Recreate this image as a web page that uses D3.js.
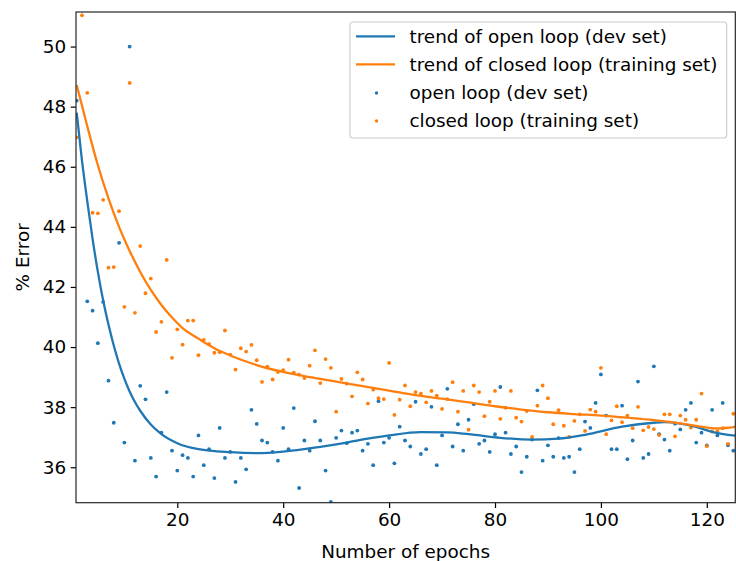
<!DOCTYPE html>
<html>
<head>
<meta charset="utf-8">
<script src="https://cdn.jsdelivr.net/npm/d3@7"></script>
<style>
  html, body { margin: 0; padding: 0; background: #fff; }
  svg { display: block; }
  text { font-family: "DejaVu Sans", sans-serif; }
</style>
</head>
<body>
<svg id="chart" width="736" height="561"></svg>
<script>
// ---------------- data ----------------
const epochs = d3.range(1, 126);

const openLoopDev = [
  48.2, 51.2, 41.52, 41.21, 40.13, 41.5, 38.88, 37.48, 43.47, 36.82,
  50.0, 36.22, 38.71, 38.26, 36.31, 35.69, 37.15, 38.5, 36.55, 35.89,
  36.40, 36.31, 35.69, 37.06, 36.07, 36.6, 35.64, 37.31, 36.31, 36.51,
  35.51, 36.31, 35.93, 37.91, 37.44, 36.89, 36.82, 36.51, 36.22, 37.31,
  36.6, 37.97, 35.31, 36.89, 36.55, 37.53, 36.89, 35.89, 34.85, 36.98,
  37.22, 36.8, 37.15, 37.22, 36.55, 36.78, 36.07, 38.2, 36.82, 36.98,
  36.13, 37.35, 36.89, 36.69, 38.18, 36.44, 36.6, 38.01, 36.07, 37.06,
  38.61, 36.69, 37.43, 36.55, 37.58, 38.1, 36.78, 36.89, 36.51, 37.1,
  38.67, 37.15, 36.44, 36.69, 35.84, 36.35, 36.92, 38.56, 36.22, 36.73,
  36.35, 36.97, 36.31, 36.35, 35.84, 36.6, 37.52, 37.31, 38.14, 39.09,
  37.72, 36.6, 36.6, 38.05, 36.27, 36.89, 38.85, 36.31, 36.44, 39.36,
  37.1, 36.92, 36.55, 37.45, 37.26, 37.91, 38.14, 36.82, 37.15, 36.73,
  37.91, 37.06, 38.14, 36.73, 36.55
];

const closedLoopTrain = [
  46.98, 51.04, 48.46, 44.47, 44.45, 44.9, 42.64, 42.66, 44.52, 41.34,
  48.79, 41.14, 43.36, 41.79, 42.28, 40.5, 40.84, 42.9, 39.64, 40.59,
  40.08, 40.88, 40.88, 39.73, 40.24, 40.1, 39.81, 39.83, 40.55, 39.75,
  39.25, 39.96, 39.85, 40.07, 39.56, 38.84, 39.35, 38.92, 39.17, 39.23,
  39.58, 39.15, 39.08, 38.97, 39.38, 39.89, 38.8, 39.6, 39.31, 37.85,
  38.94, 38.78, 38.36, 39.16, 38.92, 38.12, 38.58, 38.3, 38.27, 39.47,
  37.74, 38.25, 38.72, 38.03, 38.5, 38.45, 38.16, 38.54, 38.38, 37.94,
  38.27, 38.83, 37.85, 38.54, 37.25, 38.72, 38.5, 37.7, 38.18, 38.54,
  37.61, 37.98, 38.54, 37.65, 37.52, 37.87, 37.01, 38.05, 38.72, 38.3,
  37.43, 37.9, 37.38, 37.01, 37.54, 37.76, 37.21, 37.92, 37.85, 39.31,
  37.1, 37.56, 38.03, 37.5, 37.72, 37.3, 38.01, 37.23, 37.34, 37.27,
  37.07, 37.76, 37.76, 37.03, 37.72, 37.58, 37.32, 37.58, 38.45, 36.7,
  37.19, 37.19, 37.3, 36.78, 37.78
];

const openTrendEpochs = [1, 2, 3, 4, 5, 6, 7, 8, 9, 10, 11, 12, 13, 15, 17, 20, 24, 30, 35, 40, 47, 52, 56, 60, 66, 71, 75, 81, 87, 92, 97, 104, 110, 112, 115, 118, 121, 125.4];
const openTrendValues = [47.8, 46.2, 44.85, 43.6, 42.5, 41.55, 40.75, 40.05, 39.45, 38.95, 38.52, 38.17, 37.88, 37.42, 37.1, 36.8, 36.6, 36.5, 36.47, 36.52, 36.68, 36.82, 36.95, 37.06, 37.17, 37.16, 37.1, 36.98, 36.92, 36.95, 37.08, 37.35, 37.48, 37.5, 37.45, 37.34, 37.18, 37.05];

const closedTrendEpochs = [1, 3, 5, 7, 9, 11, 13, 15, 17, 19, 21, 24, 27, 30, 35, 40, 45, 50, 55, 60, 65, 70, 75, 80, 85, 90, 95, 100, 105, 110, 115, 118, 122, 125.4];
const closedTrendValues = [48.72, 47.35, 46.05, 44.95, 44.0, 43.2, 42.5, 41.9, 41.4, 40.98, 40.63, 40.28, 39.96, 39.72, 39.4, 39.17, 39.0, 38.85, 38.7, 38.55, 38.4, 38.28, 38.16, 38.03, 37.92, 37.83, 37.77, 37.72, 37.65, 37.57, 37.46, 37.38, 37.29, 37.34];

const xTicks = [20, 40, 60, 80, 100, 120];
const yTicks = [36, 38, 40, 42, 44, 46, 48, 50];

const seriesNames = ["trend of open loop (dev set)", "trend of closed loop (training set)", "open loop (dev set)", "closed loop (training set)"];
const xLabel = "Number of epochs";
const yLabel = "% Error";

// ---------------- layout ----------------
const blue = "#1f77b4", orange = "#ff7f0e";
const svg = d3.select("#chart");
const W = 736, H = 561;
const plot = { left: 76, right: 735.3, top: 12, bottom: 502.7 };

svg.append("rect").attr("width", W).attr("height", H).attr("fill", "#fff");

const x = d3.scaleLinear().domain([0.87, 125.38]).range([plot.left, plot.right]);
const y = d3.scaleLinear().domain([34.82, 51.15]).range([plot.bottom, plot.top]);

svg.append("defs").append("clipPath").attr("id", "clip")
  .append("rect")
  .attr("x", plot.left).attr("y", plot.top)
  .attr("width", plot.right - plot.left).attr("height", plot.bottom - plot.top);

const g = svg.append("g").attr("clip-path", "url(#clip)");

const dotR = 1.9;
// scatter first (matplotlib draws collections below lines)
g.append("g").selectAll("circle").data(epochs)
  .join("circle")
  .attr("cx", (d) => x(d)).attr("cy", (d, i) => y(openLoopDev[i]))
  .attr("r", dotR).attr("fill", blue);

g.append("g").selectAll("circle").data(epochs)
  .join("circle")
  .attr("cx", (d) => x(d)).attr("cy", (d, i) => y(closedLoopTrain[i]))
  .attr("r", dotR).attr("fill", orange);

const line = d3.line().x((d) => x(d[0])).y((d) => y(d[1])).curve(d3.curveMonotoneX);

g.append("path")
  .datum(openTrendEpochs.map((e, i) => [e, openTrendValues[i]]))
  .attr("d", line).attr("fill", "none").attr("stroke", blue).attr("stroke-width", 2.3);

g.append("path")
  .datum(closedTrendEpochs.map((e, i) => [e, closedTrendValues[i]]))
  .attr("d", line).attr("fill", "none").attr("stroke", orange).attr("stroke-width", 2.3);

// ---------------- axes ----------------
const fontSize = 18.4;
const xAxis = svg.append("g").attr("transform", `translate(0,${plot.bottom})`)
  .call(d3.axisBottom(x).tickValues(xTicks).tickSize(5.3).tickPadding(4.5).tickFormat(d3.format("d")));
const yAxis = svg.append("g").attr("transform", `translate(${plot.left},0)`)
  .call(d3.axisLeft(y).tickValues(yTicks).tickSize(5.3).tickPadding(4.5).tickFormat(d3.format("d")));

[xAxis, yAxis].forEach((a) => {
  a.select(".domain").remove();
  a.selectAll(".tick line").attr("stroke", "#000").attr("stroke-width", 1.2);
  a.selectAll(".tick text").attr("fill", "#000")
    .style("font-family", "'DejaVu Sans', sans-serif").style("font-size", fontSize + "px");
});

// spines
svg.append("rect")
  .attr("x", plot.left).attr("y", plot.top)
  .attr("width", plot.right - plot.left).attr("height", plot.bottom - plot.top)
  .attr("fill", "none").attr("stroke", "#262626").attr("stroke-width", 1.2);

// axis labels
svg.append("text").attr("x", (plot.left + plot.right) / 2).attr("y", 558)
  .attr("text-anchor", "middle").style("font-size", fontSize + "px").attr("fill", "#000")
  .text(xLabel);

svg.append("text")
  .attr("transform", `translate(28.5,${(plot.top + plot.bottom) / 2}) rotate(-90)`)
  .attr("text-anchor", "middle").style("font-size", fontSize + "px").attr("fill", "#000")
  .text(yLabel);

// ---------------- legend ----------------
const lg = svg.append("g");
lg.append("rect")
  .attr("x", 350).attr("y", 22).attr("width", 376.7).attr("height", 116)
  .attr("rx", 3).attr("ry", 3)
  .attr("fill", "#fff").attr("fill-opacity", 0.8)
  .attr("stroke", "#cccccc").attr("stroke-width", 1.1);

const rowsY = [36.3, 64.3, 92.5, 120.5];
const kinds = [["line", blue], ["line", orange], ["dot", blue], ["dot", orange]];
kinds.forEach((k, i) => {
  if (k[0] === "line") {
    lg.append("line").attr("x1", 356).attr("x2", 395)
      .attr("y1", rowsY[i]).attr("y2", rowsY[i])
      .attr("stroke", k[1]).attr("stroke-width", 2.3);
  } else {
    lg.append("circle").attr("cx", 376.5).attr("cy", rowsY[i] + 0.5).attr("r", 1.7).attr("fill", k[1]);
  }
  lg.append("text").attr("x", 409.5).attr("y", rowsY[i]).attr("dy", "0.36em")
    .style("font-size", fontSize + "px").attr("fill", "#000")
    .text(seriesNames[i]);
});
</script>
</body>
</html>
